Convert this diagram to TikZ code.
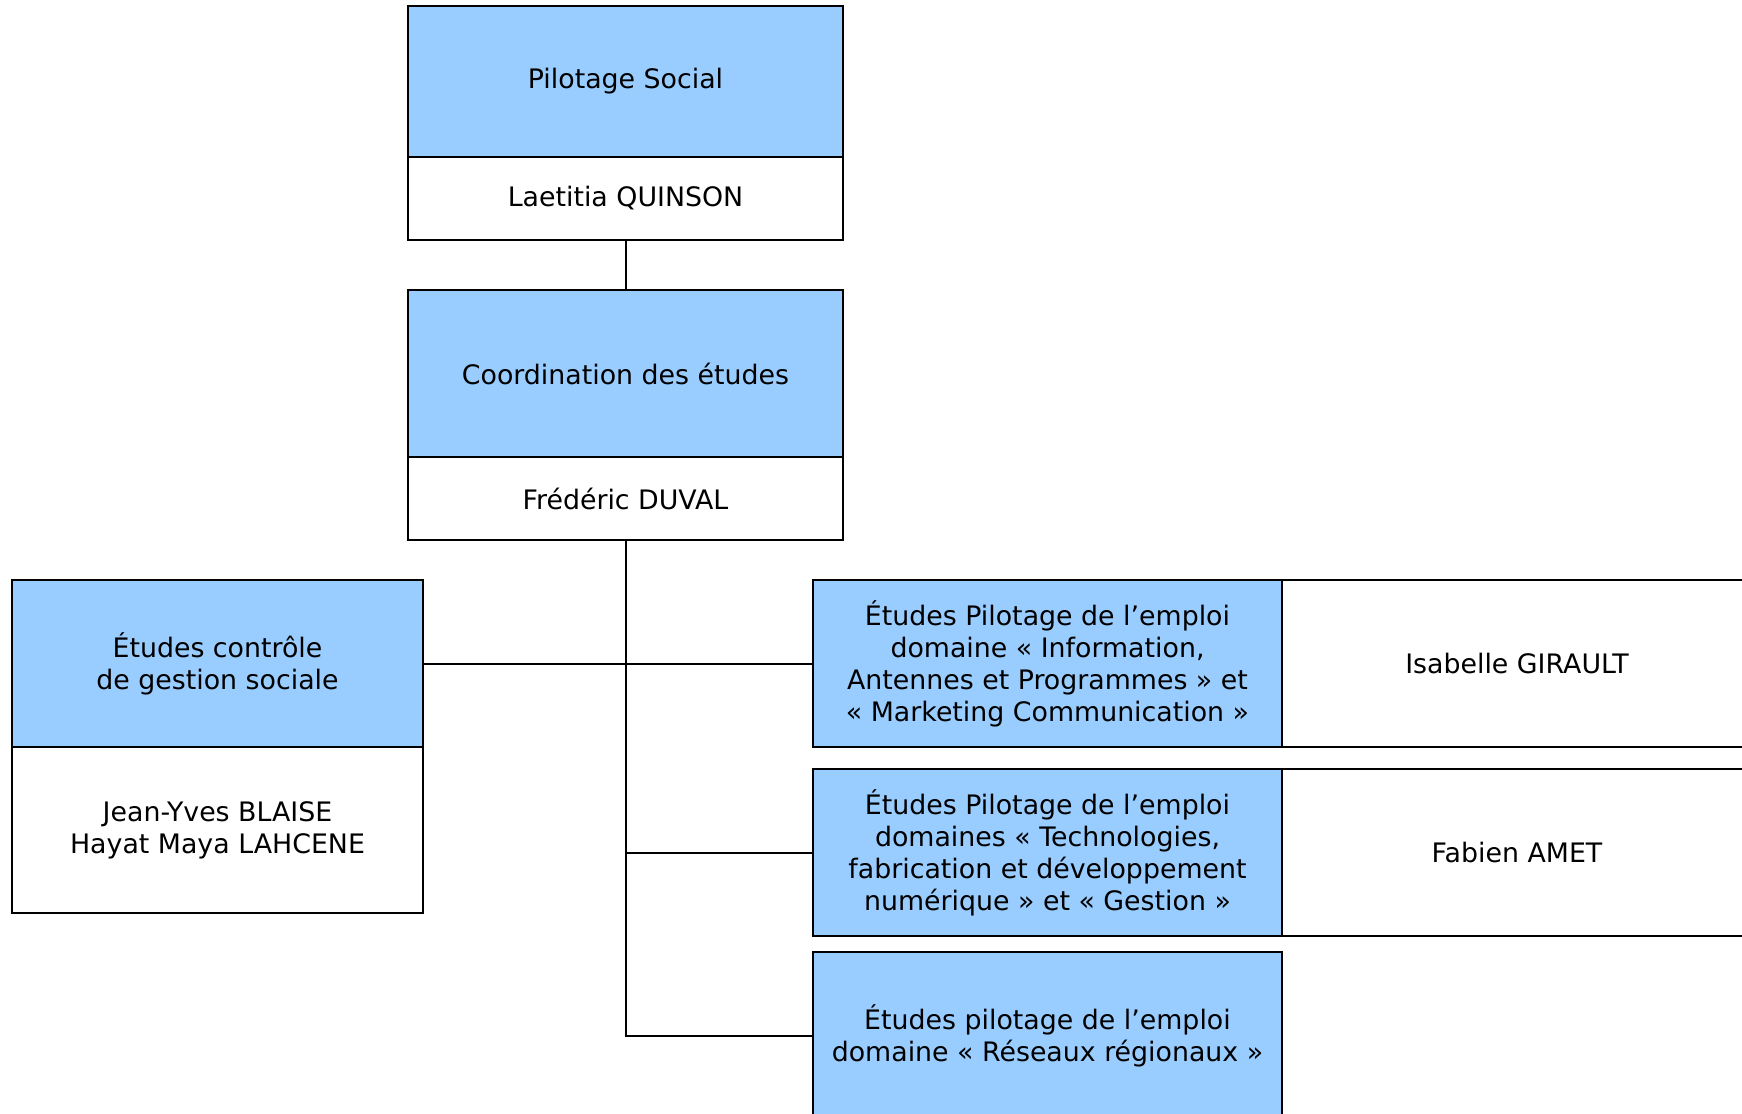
\documentclass[tikz,border=0pt]{standalone}
\usepackage{fontspec}
\setmainfont{DejaVu Sans}
\usetikzlibrary{positioning}
\definecolor{unitblue}{HTML}{99CCFF}

\begin{document}
\begin{tikzpicture}[x=0.5pt,y=-0.5pt,
    box/.style={draw, line width=1pt, outer sep=0pt, inner sep=0pt, align=center,
        font=\fontsize{13.4}{16}\selectfont},
    unit/.style={box, fill=unitblue},
    person/.style={box, fill=white}]
    \useasboundingbox (0,0) rectangle (1742,1114);

    % top of the chart
    \node[unit, anchor=north west, minimum width=217.5pt, minimum height=75.5pt] (ps) at (408,6) {Pilotage Social};
    \node[person, below=0pt of ps, minimum width=217.5pt, minimum height=41.5pt] (psn) {Laetitia QUINSON};
    \node[unit, anchor=north west, minimum width=217.5pt, minimum height=83.5pt] (cd) at (408,290) {Coordination des études};
    \node[person, below=0pt of cd, minimum width=217.5pt, minimum height=41.5pt] (cdn) {Frédéric DUVAL};

    % left branch
    \node[unit, anchor=north west, minimum width=205.5pt, minimum height=83.5pt] (cg) at (12,580) {Études contrôle\\de gestion sociale};
    \node[person, below=0pt of cg, minimum width=205.5pt, minimum height=83pt] (cgn) {Jean-Yves BLAISE\\Hayat Maya LAHCENE};

    % right branches
    \node[unit, anchor=north west, minimum width=234.5pt, minimum height=83.5pt] (ea) at (813,580)
        {Études Pilotage de l’emploi\\domaine « Information,\\Antennes et Programmes » et\\« Marketing Communication »};
    \node[person, right=0pt of ea, minimum width=235pt, minimum height=83.5pt] (ean) {Isabelle GIRAULT};
    \node[unit, anchor=north west, minimum width=234.5pt, minimum height=83.5pt] (et) at (813,769)
        {Études Pilotage de l’emploi\\domaines « Technologies,\\fabrication et développement\\numérique » et « Gestion »};
    \node[person, right=0pt of et, minimum width=235pt, minimum height=83.5pt] (etn) {Fabien AMET};
    \node[unit, anchor=north west, minimum width=234.5pt, minimum height=83.5pt] (er) at (813,952)
        {Études pilotage de l’emploi\\domaine « Réseaux régionaux »};

    \begin{scope}[line width=1pt]
        \draw (psn.south) -- (cd.north);
        \draw (cdn.south) -- (er.west -| cdn.south) -- (er.west);
        \draw (cg.east) -- (ea.west);
        \draw (et.west -| cdn.south) -- (et.west);
    \end{scope}
\end{tikzpicture}
\end{document}
